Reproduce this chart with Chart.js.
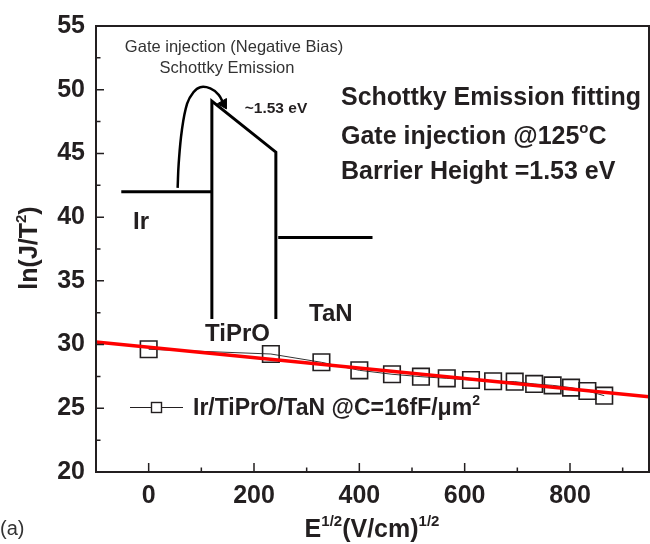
<!DOCTYPE html>
<html>
<head>
<meta charset="utf-8">
<script src="https://cdn.jsdelivr.net/npm/chart.js@4/dist/chart.umd.min.js"></script>
<style>
  html, body { margin: 0; padding: 0; background: #fff; }
  #wrap { width: 650px; height: 544px; }
</style>
</head>
<body>
<div id="wrap"><canvas id="chart"></canvas></div>
<script>
// ── DATA ──────────────────────────────────────────────────────────────────
const FIELD  = [0, 232, 328, 400, 462, 517, 566, 612, 654, 695, 732, 767, 802, 833, 865];
const LNJT2  = [29.63, 29.26, 28.61, 27.98, 27.67, 27.48, 27.35, 27.22, 27.12, 27.09, 26.91, 26.80, 26.62, 26.36, 25.99];
const FIT_X  = [-100, 950];
const FIT_Y  = [30.21, 25.91];
const X_TICKS = [0, 200, 400, 600, 800];
const X_MINOR = [100, 300, 500, 700, 900];
const Y_TICKS = [20, 25, 30, 35, 40, 45, 50, 55];
const Y_MINOR = [22.5, 27.5, 32.5, 37.5, 42.5, 47.5, 52.5];

// band diagram inset (axis units)
const IR_LEVEL  = [[-52, 42], [120, 42]];
const BARRIER   = [[120, 32], [120, 49.1], [241.5, 45.1], [241.5, 32]];
const TAN_LEVEL = [[246, 38.4], [425, 38.4]];
const ARROW     = [[55, 42.3], [57, 44.2], [63, 46.8], [73, 48.9], [85, 49.8], [98, 50.2], [117, 50.1], [133, 49.6], [142, 48.9]];

const FONT = "'Liberation Sans', Arial, sans-serif";
const INK  = '#231f20';

const pts = arr => arr.map(([x, y]) => ({ x, y }));

// ── TEXT HELPER (superscripts) ───────────────────────────────────────────
function rich(ctx, parts, x, y, align, size, weight, color) {
  const big = `${weight} ${size}px ${FONT}`;
  const small = `${weight} ${Math.round(size * 0.6)}px ${FONT}`;
  let w = 0;
  parts.forEach(([t, sup]) => { ctx.font = sup ? small : big; w += ctx.measureText(t).width; });
  let cx = align === 'center' ? x - w / 2 : x;
  ctx.fillStyle = color || INK;
  ctx.textAlign = 'left';
  ctx.textBaseline = 'alphabetic';
  parts.forEach(([t, sup]) => {
    ctx.font = sup ? small : big;
    ctx.fillText(t, cx, sup ? y - size * 0.45 : y);
    cx += ctx.measureText(t).width;
  });
}

// ── FRAME, INWARD TICKS, ANNOTATIONS ─────────────────────────────────────
const decor = {
  id: 'decor',
  afterDraw(chart) {
    const { ctx, chartArea: a, scales: { x, y } } = chart;
    ctx.save();
    ctx.strokeStyle = INK;
    ctx.lineWidth = 2;
    ctx.strokeRect(a.left, a.top, a.right - a.left, a.bottom - a.top);

    ctx.lineWidth = 1.5;
    ctx.beginPath();
    X_TICKS.forEach(v => { const p = x.getPixelForValue(v); ctx.moveTo(p, a.bottom); ctx.lineTo(p, a.bottom - 9); });
    X_MINOR.forEach(v => { const p = x.getPixelForValue(v); ctx.moveTo(p, a.bottom); ctx.lineTo(p, a.bottom - 4.5); });
    Y_TICKS.forEach(v => { const p = y.getPixelForValue(v); ctx.moveTo(a.left, p); ctx.lineTo(a.left + 8, p); });
    Y_MINOR.forEach(v => { const p = y.getPixelForValue(v); ctx.moveTo(a.left, p); ctx.lineTo(a.left + 4.5, p); });
    ctx.stroke();

    // inset labels
    rich(ctx, [['Gate injection (Negative Bias)']], 234, 51.5, 'center', 16.5, 'normal', '#333');
    rich(ctx, [['Schottky Emission']], 227, 72.5, 'center', 16.5, 'normal', '#333');
    rich(ctx, [['~1.53 eV']], 276, 112.5, 'center', 15.5, 'bold');
    rich(ctx, [['Ir']], 133, 229, 'left', 24, 'bold');
    rich(ctx, [['TaN']], 309, 320.5, 'left', 24, 'bold');
    rich(ctx, [['TiPrO']], 205, 340.5, 'left', 24, 'bold');

    // fit summary
    rich(ctx, [['Schottky Emission fitting']], 341, 105, 'left', 25, 'bold');
    rich(ctx, [['Gate injection @125'], ['o', true], ['C']], 341, 144, 'left', 25, 'bold');
    rich(ctx, [['Barrier Height =1.53 eV']], 341, 179, 'left', 25, 'bold');

    // legend
    const ly = 407.5;
    ctx.strokeStyle = INK;
    ctx.lineWidth = 1.2;
    ctx.beginPath();
    ctx.moveTo(130, ly); ctx.lineTo(151, ly);
    ctx.moveTo(162, ly); ctx.lineTo(183, ly);
    ctx.stroke();
    ctx.lineWidth = 1.4;
    ctx.strokeRect(151.5, ly - 5, 10, 10);
    rich(ctx, [['Ir/TiPrO/TaN @C=16fF/\u03bcm'], ['2', true]], 193, 415, 'left', 23, 'bold');

    // axis titles
    ctx.save();
    ctx.translate(37, 248);
    ctx.rotate(-Math.PI / 2);
    rich(ctx, [['ln(J/T'], ['2', true], [')']], 0, 0, 'center', 25, 'bold');
    ctx.restore();
    rich(ctx, [['E'], ['1/2', true], ['(V/cm)'], ['1/2', true]], 372, 537, 'center', 25, 'bold');
    rich(ctx, [['(a)']], 0, 535, 'left', 20, 'normal', '#333');
    ctx.restore();
  }
};

// ── CHART ────────────────────────────────────────────────────────────────
const inset = (data, extra) => Object.assign({
  data: pts(data), showLine: true, borderColor: '#000', borderWidth: 3,
  pointRadius: 0, tension: 0, order: 3, clip: false
}, extra || {});

new Chart(document.getElementById('chart'), {
  type: 'scatter',
  data: {
    datasets: [
      {
        label: 'fit', data: FIT_X.map((v, i) => ({ x: v, y: FIT_Y[i] })),
        showLine: true, borderColor: '#ff0000', borderWidth: 3.5, pointRadius: 0, order: 0
      },
      {
        label: 'Ir/TiPrO/TaN @C=16fF/um2', data: FIELD.map((v, i) => ({ x: v, y: LNJT2[i] })),
        showLine: true, borderColor: '#333', borderWidth: 1,
        pointStyle: 'rect', pointRadius: 11.7, pointBorderWidth: 1.6,
        pointBorderColor: INK, pointBackgroundColor: 'rgba(0,0,0,0)', order: 1
      },
      inset(IR_LEVEL),
      inset(BARRIER),
      inset(TAN_LEVEL),
      inset(ARROW, { borderWidth: 2.5, tension: 0.4 }),
      {
        data: pts([ARROW[ARROW.length - 1]]), pointStyle: 'triangle', pointRadius: 6,
        pointRotation: 150, pointBackgroundColor: '#000', pointBorderColor: '#000', order: 3, clip: false
      }
    ]
  },
  options: {
    responsive: true, maintainAspectRatio: false, animation: false,
    layout: { autoPadding: false, padding: { top: 26, right: 1, left: 0, bottom: 0 } },
    plugins: { legend: { display: false }, tooltip: { enabled: false } },
    scales: {
      x: {
        type: 'linear', min: -100, max: 950,
        afterBuildTicks: s => { s.ticks = X_TICKS.map(v => ({ value: v })); },
        afterFit: s => { s.height = 72; s.paddingLeft = 0; s.paddingRight = 0; },
        grid: { display: false, drawTicks: false }, border: { display: false },
        ticks: { font: { family: FONT, size: 25, weight: 'bold' }, color: INK, padding: 9, maxRotation: 0 }
      },
      y: {
        type: 'linear', min: 20, max: 55,
        afterBuildTicks: s => { s.ticks = Y_TICKS.map(v => ({ value: v })); },
        afterFit: s => { s.width = 96; s.paddingTop = 0; s.paddingBottom = 0; },
        grid: { display: false, drawTicks: false }, border: { display: false },
        ticks: { font: { family: FONT, size: 25, weight: 'bold' }, color: INK, padding: 11 }
      }
    }
  },
  plugins: [decor]
});
</script>
</body>
</html>
